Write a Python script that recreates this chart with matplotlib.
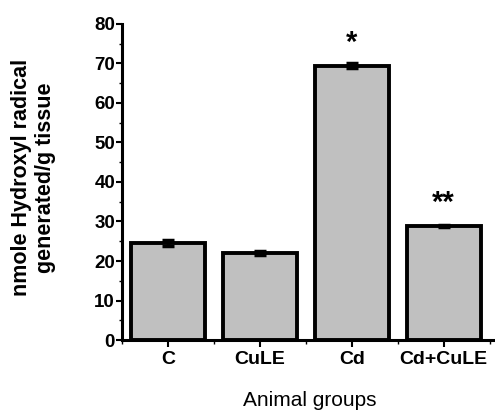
import numpy as np
import matplotlib.pyplot as plt
from matplotlib.ticker import MultipleLocator, FixedLocator

groups = ['C', 'CuLE', 'Cd', 'Cd+CuLE']
values = [24.5, 22.0, 69.4, 28.9]
errors = [0.7, 0.6, 0.6, 0.3]
marks = ['', '', '*', '**']

plt.rcParams['font.family'] = ['Liberation Sans', 'DejaVu Sans']

fig = plt.figure(figsize=(4.95, 4.11), dpi=100)
ax = fig.add_axes([0.2465, 0.1727, 0.75, 0.769])

x = np.arange(len(groups))
ax.bar(x, values, width=0.81, color='#c0c0c0', edgecolor='black', linewidth=2.8, zorder=2)
ax.errorbar(x, values, yerr=errors, fmt='none', ecolor='black', elinewidth=2.5,
            capsize=4, capthick=2.5, zorder=3)

# gwiazdki istotnosci nad slupkami
for xi, v, m in zip(x, values, marks):
    if m:
        ax.text(xi, v + 5.8, m, ha='center', va='center', fontsize=21, fontweight='bold')

ax.set_xlim(-0.504, 3.54)
ax.set_ylim(0, 80)
ax.yaxis.set_major_locator(MultipleLocator(10))
ax.yaxis.set_minor_locator(MultipleLocator(5))
ax.xaxis.set_major_locator(FixedLocator(x))
ax.xaxis.set_minor_locator(FixedLocator([-0.5, 0.5, 1.5, 2.5, 3.5]))
ax.set_xticklabels(groups, fontsize=14, fontweight='bold')
for lab in ax.get_yticklabels():
    lab.set_fontweight('bold')
    lab.set_fontsize(13.5)

ax.spines['top'].set_visible(False)
ax.spines['right'].set_visible(False)
ax.spines['left'].set_linewidth(2.2)
ax.spines['bottom'].set_linewidth(2.2)
ax.tick_params(axis='both', which='major', direction='out', length=4, width=1.5, pad=1)
ax.tick_params(axis='y', which='minor', direction='out', length=2.5, width=1)
ax.tick_params(axis='x', which='major', length=5, width=1.5, pad=3)
ax.tick_params(axis='x', which='minor', length=3, width=1)

ax.set_ylabel('nmole Hydroxyl radical\ngenerated/g tissue', fontsize=15.5, fontweight='bold',
              linespacing=1.2)
ax.yaxis.set_label_coords(-0.178, 0.513)
ax.set_xlabel('Animal groups', fontsize=15)
ax.xaxis.set_label_coords(0.505, -0.162)

plt.savefig('out.png', dpi=100)
